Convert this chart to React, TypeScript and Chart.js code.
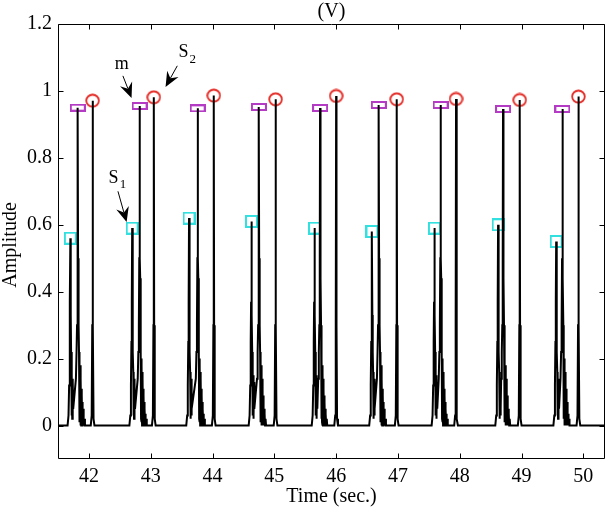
import React, { useEffect, useRef } from "react";
import { Chart, registerables } from "chart.js";

Chart.register(...registerables);

// ---- data ----
const X_TICKS = [42, 43, 44, 45, 46, 47, 48, 49, 50];
const Y_TICKS = [0, 0.2, 0.4, 0.6, 0.8, 1, 1.2];

const S1_TIME = [41.7, 42.7, 43.62, 44.63, 45.65, 46.58, 47.59, 48.62, 49.56];
const S1_AMP = [0.56, 0.59, 0.62, 0.61, 0.59, 0.58, 0.59, 0.6, 0.55];

const M_TIME = [41.82, 42.82, 43.76, 44.75, 45.74, 46.69, 47.69, 48.7, 49.66];
const M_AMP = [0.95, 0.955, 0.948, 0.952, 0.949, 0.958, 0.958, 0.946, 0.946];

const S2_TIME = [42.06, 43.05, 44.02, 45.02, 46.0, 46.98, 47.94, 48.97, 49.92];
const S2_AMP = [0.971, 0.981, 0.986, 0.975, 0.985, 0.975, 0.976, 0.973, 0.983];

// pulse shapes (time offset from the peak, level; null = the peak itself)
const S1_SHAPE_DT = [-0.045, -0.03, -0.02, -0.012, -0.006, 0, 0.006, 0.012, 0.018, 0.022, 0.026, 0.03, 0.034, 0.038, 0.042, 0.046];
const S1_SHAPE_LV = [0, 0.03, 0.12, 0.25, 0.37, null, 0.33, 0.22, 0.16, 0.03, 0.15, 0.02, 0.14, 0.03, 0.13, 0.05];
const M_SHAPE_DT = [-0.03, -0.02, -0.012, -0.005, 0, 0.005, 0.01, 0.016, 0.02, 0.024, 0.028, 0.032, 0.036, 0.04, 0.044, 0.048, 0.052, 0.056, 0.06, 0.064, 0.068, 0.072, 0.076, 0.08, 0.085, 0.09, 0.095, 0.1, 0.108, 0.116, 0.125];
const M_SHAPE_LV = [0.14, 0.22, 0.3, 0.5, null, 0.5, 0.44, 0.3, 0.22, 0.02, 0.2, 0.01, 0.18, 0.0, 0.16, 0.0, 0.14, 0.0, 0.11, 0.0, 0.09, 0.0, 0.07, 0.0, 0.05, 0.0, 0.035, 0.0, 0.02, 0.0, 0.0];
const S2_SHAPE_DT = [-0.03, -0.015, -0.006, 0, 0.006, 0.015, 0.03];
const S2_SHAPE_LV = [0, 0.03, 0.3, null, 0.3, 0.02, 0];

const X_MIN = 41.5;
const X_MAX = 50.35;
const Y_MIN = -0.1;
const Y_MAX = 1.2;

// ---- build waveform from the peaks ----
function buildWave() {
  const pts: { x: number; y: number }[] = [{ x: X_MIN, y: 0 }];
  for (let i = 0; i < S1_TIME.length; i++) {
    S1_SHAPE_DT.forEach((dt, k) => {
      const lv = S1_SHAPE_LV[k];
      pts.push({ x: S1_TIME[i] + dt, y: lv === null ? S1_AMP[i] : lv });
    });
    M_SHAPE_DT.forEach((dt, k) => {
      const lv = M_SHAPE_LV[k];
      pts.push({ x: M_TIME[i] + dt, y: lv === null ? M_AMP[i] : lv });
    });
    S2_SHAPE_DT.forEach((dt, k) => {
      const lv = S2_SHAPE_LV[k];
      pts.push({ x: S2_TIME[i] + dt, y: lv === null ? S2_AMP[i] : lv });
    });
  }
  pts.push({ x: X_MAX, y: 0 });
  return pts;
}

function markerCanvas(kind: string): HTMLCanvasElement {
  const c = document.createElement("canvas");
  const ctx = c.getContext("2d")!;
  if (kind === "square") {
    c.width = 13; c.height = 13;
    ctx.strokeStyle = "#33e0e0"; ctx.lineWidth = 2;
    ctx.strokeRect(1, 1, 11, 11);
  } else if (kind === "rect") {
    c.width = 16; c.height = 8;
    ctx.strokeStyle = "#b43cc4"; ctx.lineWidth = 2;
    ctx.strokeRect(1, 1, 14, 6);
  } else {
    c.width = 15; c.height = 15;
    ctx.strokeStyle = "#e42a25"; ctx.lineWidth = 1.8;
    ctx.beginPath();
    ctx.ellipse(7.5, 7.5, 6.3, 6, 0, 0, Math.PI * 2);
    ctx.stroke();
  }
  return c;
}

const SERIF = "'Liberation Serif', 'Times New Roman', serif";

// annotation placement (data coords)
const ANNOTATIONS = [
  { label: "m", sub: "", text: [42.53, 1.08], from: [42.55, 1.045], to: [42.69, 0.979] },
  { label: "S", sub: "2", text: [43.53, 1.115], from: [43.43, 1.075], to: [43.24, 1.012] },
  { label: "S", sub: "1", text: [42.4, 0.74], from: [42.47, 0.7], to: [42.61, 0.608] },
];

function drawArrow(ctx: CanvasRenderingContext2D, x0: number, y0: number, x1: number, y1: number) {
  const ang = Math.atan2(y1 - y0, x1 - x0);
  const c = Math.cos(ang), s = Math.sin(ang);
  const len = 15, half = 6.5, notch = 5;
  ctx.beginPath();
  ctx.moveTo(x0, y0);
  ctx.lineTo(x1 - (len - notch) * c, y1 - (len - notch) * s);
  ctx.lineWidth = 1;
  ctx.stroke();
  const px = -s, py = c;
  const bx = x1 - len * c, by = y1 - len * s;
  const nx = x1 - (len - notch) * c, ny = y1 - (len - notch) * s;
  ctx.beginPath();
  ctx.moveTo(x1, y1);
  ctx.lineTo(bx + px * half, by + py * half);
  ctx.lineTo(nx, ny);
  ctx.lineTo(bx - px * half, by - py * half);
  ctx.closePath();
  ctx.fill();
}

const decorPlugin = {
  id: "decor",
  afterDraw(chart: any) {
    const { ctx, chartArea: a, scales } = chart;
    const xs = scales.x, ys = scales.y;
    ctx.save();
    ctx.strokeStyle = "#000";
    ctx.fillStyle = "#000";
    ctx.lineWidth = 1;
    const L = Math.round(a.left) + 0.5, R = Math.round(a.right) - 0.5;
    const T = Math.round(a.top) + 0.5, B = Math.round(a.bottom) - 0.5;
    ctx.beginPath();
    ctx.rect(L, T, R - L, B - T);
    ctx.stroke();
    ctx.beginPath();
    X_TICKS.forEach((v) => {
      const px = Math.round(xs.getPixelForValue(v)) + 0.5;
      ctx.moveTo(px, B); ctx.lineTo(px, B - 5);
      ctx.moveTo(px, T); ctx.lineTo(px, T + 5);
    });
    Y_TICKS.forEach((v) => {
      const py = Math.round(ys.getPixelForValue(v)) + 0.5;
      ctx.moveTo(L, py); ctx.lineTo(L + 5, py);
      ctx.moveTo(R, py); ctx.lineTo(R - 5, py);
    });
    ctx.stroke();

    // titles
    ctx.textAlign = "center";
    ctx.textBaseline = "middle";
    ctx.font = `20px ${SERIF}`;
    const cx = (a.left + a.right) / 2;
    ctx.fillText("(V)", cx, 12);
    ctx.fillText("Time (sec.)", cx, 497);
    ctx.save();
    ctx.translate(11, 245);
    ctx.rotate(-Math.PI / 2);
    ctx.fillText("Amplitude", 0, 0);
    ctx.restore();

    // annotations
    ANNOTATIONS.forEach((an) => {
      const tx = xs.getPixelForValue(an.text[0]);
      const ty = ys.getPixelForValue(an.text[1]);
      ctx.font = `18px ${SERIF}`;
      ctx.textAlign = "center";
      ctx.textBaseline = "middle";
      ctx.fillText(an.label, tx, ty);
      if (an.sub) {
        const w = ctx.measureText(an.label).width;
        ctx.font = `13px ${SERIF}`;
        ctx.textAlign = "left";
        ctx.fillText(an.sub, tx + w / 2 + 1, ty + 7);
      }
      drawArrow(
        ctx,
        xs.getPixelForValue(an.from[0]), ys.getPixelForValue(an.from[1]),
        xs.getPixelForValue(an.to[0]), ys.getPixelForValue(an.to[1])
      );
    });
    ctx.restore();
  },
};

export default function App() {
  const ref = useRef<HTMLCanvasElement>(null);
  useEffect(() => {
    document.body.style.margin = "0";
    const wave = buildWave();
    const s1 = S1_TIME.map((t, i) => ({ x: t, y: S1_AMP[i] }));
    const m = M_TIME.map((t, i) => ({ x: t, y: M_AMP[i] }));
    const s2 = S2_TIME.map((t, i) => ({ x: t, y: S2_AMP[i] }));
    const tickFont = { family: SERIF, size: 20 };
    const chart = new Chart(ref.current!, {
      type: "scatter",
      data: {
        datasets: [
          { data: wave, showLine: true, borderColor: "#000", borderWidth: 2, pointRadius: 0, tension: 0, borderJoinStyle: "miter" } as any,
          { data: s1, pointStyle: markerCanvas("square") as any, pointRadius: 6 },
          { data: m, pointStyle: markerCanvas("rect") as any, pointRadius: 6 },
          { data: s2, pointStyle: markerCanvas("circle") as any, pointRadius: 6 },
        ],
      },
      options: {
        responsive: false,
        animation: false,
        layout: { padding: { top: 24, right: 3, left: 0, bottom: 0 } },
        plugins: { legend: { display: false }, tooltip: { enabled: false }, title: { display: false } },
        scales: {
          x: {
            type: "linear",
            min: X_MIN,
            max: X_MAX,
            grid: { display: false, drawTicks: false },
            border: { display: false },
            afterBuildTicks: (s: any) => { s.ticks = X_TICKS.map((v) => ({ value: v })); },
            afterFit: (s: any) => { s.height = 51; },
            ticks: { font: tickFont, color: "#000", padding: 6, maxRotation: 0, autoSkip: false, callback: (v: any) => String(v) },
          },
          y: {
            type: "linear",
            min: Y_MIN,
            max: Y_MAX,
            grid: { display: false, drawTicks: false },
            border: { display: false },
            afterBuildTicks: (s: any) => { s.ticks = Y_TICKS.map((v) => ({ value: v })); },
            afterFit: (s: any) => { s.width = 58; },
            ticks: { font: tickFont, color: "#000", padding: 6, autoSkip: false, callback: (v: any) => String(v) },
          },
        },
      },
      plugins: [decorPlugin],
    });
    return () => chart.destroy();
  }, []);
  return (
    <div style={{ position: "fixed", left: 0, top: 0, width: 612, height: 510, background: "#fff" }}>
      <canvas ref={ref} width={612} height={510} style={{ display: "block" }} />
    </div>
  );
}
